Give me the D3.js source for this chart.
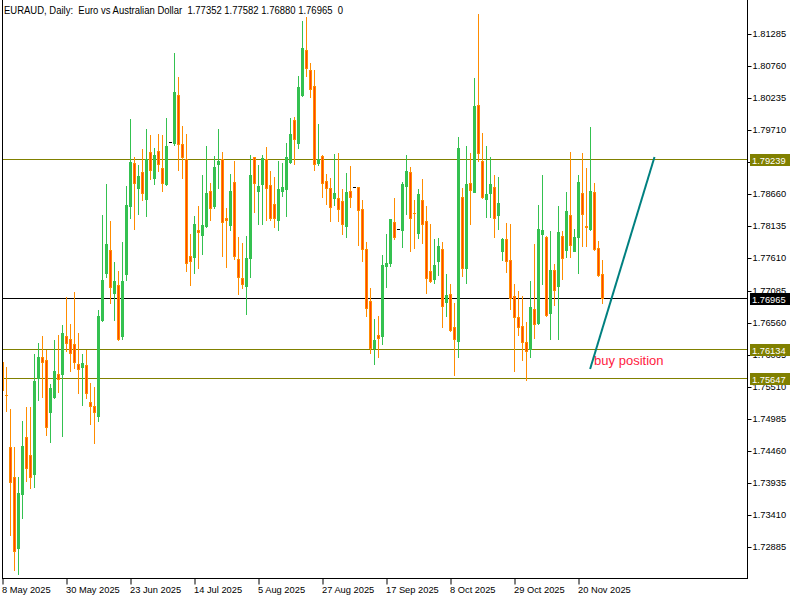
<!DOCTYPE html>
<html>
<head>
<meta charset="utf-8">
<script src="https://cdn.jsdelivr.net/npm/d3@7"></script>
<style>
  html, body { margin: 0; padding: 0; background: #fff; }
  svg { display: block; }
  text { font-family: "Liberation Sans", Arial, sans-serif; }
</style>
</head>
<body>
<svg id="chart" width="800" height="600"></svg>
<script>
// ---------------- DATA ----------------
const titleText = "EURAUD, Daily:  Euro vs Australian Dollar  1.77352 1.77582 1.76880 1.76965  0";

const open = [
1.75915,1.75382,1.74522,1.74031,1.72869,1.73753,1.74686,1.74391,1.74080,1.75652,
1.75996,1.75947,1.75096,1.75341,1.75718,1.75718,1.76340,1.76291,1.76209,1.75881,
1.75832,1.75865,1.75259,1.75194,1.75030,1.76602,1.77372,1.77748,1.77044,1.77175,
1.76340,1.77355,1.78469,1.79173,1.78763,1.79026,1.78583,1.79353,1.78927,1.79370,
1.79091,1.78829,1.79517,1.79500,1.80286,1.79484,1.79238,1.77650,1.77634,1.78068,
1.77994,1.78141,1.78714,1.78469,1.79156,1.79238,1.78272,1.78158,1.78862,1.77601,
1.77290,1.77159,1.77617,1.79271,1.78714,1.78829,1.79238,1.78812,1.78502,1.78239,
1.78714,1.78747,1.79189,1.79877,1.79500,1.80286,1.81023,1.80696,1.80434,1.79173,
1.79287,1.78878,1.78763,1.78600,1.78600,1.78551,1.78141,1.78714,1.78780,1.78780,
1.78420,1.77765,1.76913,1.76144,1.76356,1.76340,1.77486,1.77535,1.78207,1.78092,
1.78076,1.78796,1.79026,1.78362,1.78027,1.78567,1.78223,1.77405,1.77273,1.77568,
1.77765,1.76897,1.77028,1.76488,1.76258,1.78616,1.77454,1.78845,1.78698,1.80123,
1.79205,1.78583,1.78681,1.78780,1.78321,1.77732,1.77928,1.77584,1.76995,1.76651,
1.76504,1.76242,1.76127,1.76782,1.76553,1.78010,1.77961,1.76717,1.77421,1.77159,
1.77977,1.77748,1.78321,1.77732,1.77961,1.78681,1.78133,1.78092,1.78698,1.77781,
1.77352];
const high = [
1.75980,1.75832,1.75145,1.74522,1.74031,1.74948,1.75177,1.75177,1.76045,1.76225,
1.76340,1.76111,1.75554,1.76275,1.76356,1.76520,1.76979,1.76536,1.77061,1.76389,
1.76045,1.76111,1.75570,1.75505,1.76766,1.78321,1.78829,1.78223,1.77552,1.77405,
1.77880,1.78796,1.79893,1.79271,1.79140,1.79402,1.79730,1.79632,1.79419,1.79648,
1.79632,1.79910,1.79517,1.80974,1.80581,1.79781,1.79648,1.78010,1.78305,1.78469,
1.78976,1.79451,1.78845,1.79287,1.79730,1.79353,1.78436,1.78993,1.79205,1.77961,
1.77863,1.77977,1.79304,1.79271,1.79140,1.79304,1.79435,1.79042,1.78944,1.79205,
1.79173,1.79500,1.79910,1.79926,1.80598,1.81498,1.81564,1.80810,1.80696,1.79812,
1.79304,1.78993,1.78927,1.79320,1.79337,1.78747,1.79009,1.79124,1.78780,1.78780,
1.78567,1.77880,1.77126,1.76619,1.76668,1.77666,1.78010,1.78256,1.78600,1.78092,
1.78862,1.79304,1.79107,1.78567,1.78747,1.78911,1.78469,1.78174,1.77928,1.77945,
1.77880,1.77355,1.77192,1.76880,1.79599,1.78763,1.79451,1.79337,1.80565,1.81613,
1.79664,1.79451,1.79271,1.78976,1.78944,1.77945,1.78190,1.78174,1.77192,1.77077,
1.76995,1.76569,1.77240,1.77847,1.78485,1.78976,1.77977,1.78059,1.77519,1.78469,
1.78059,1.78698,1.79353,1.78092,1.78976,1.79337,1.79091,1.79763,1.78845,1.77896,
1.77582];
const low = [
1.75390,1.75112,1.73081,1.72508,1.72443,1.73360,1.73966,1.73851,1.73868,1.75292,
1.75341,1.74719,1.74604,1.75325,1.75423,1.74703,1.76095,1.75767,1.75816,1.75407,
1.75210,1.75325,1.74899,1.74588,1.74948,1.76586,1.77306,1.76880,1.76602,1.76275,
1.76291,1.77257,1.78272,1.78092,1.78338,1.78567,1.78305,1.78911,1.78829,1.79042,
1.78714,1.78812,1.79517,1.79468,1.79058,1.78927,1.77405,1.77175,1.77372,1.77454,
1.77683,1.78125,1.78239,1.78436,1.78763,1.77650,1.77470,1.78076,1.77601,1.77028,
1.77126,1.76700,1.77306,1.78370,1.78174,1.78174,1.78239,1.78239,1.78125,1.78076,
1.78633,1.78305,1.79173,1.79156,1.79419,1.80270,1.80598,1.80254,1.79058,1.79140,
1.78616,1.78502,1.78223,1.78485,1.78223,1.78010,1.77961,1.78452,1.78780,1.77830,
1.77568,1.76668,1.76062,1.75881,1.75996,1.76209,1.77142,1.77486,1.77928,1.78092,
1.77797,1.78338,1.77732,1.77781,1.77945,1.77863,1.77044,1.77225,1.77208,1.77339,
1.76488,1.76668,1.76422,1.75701,1.75996,1.77323,1.77208,1.78174,1.78698,1.79205,
1.78600,1.78289,1.78289,1.77961,1.78092,1.77584,1.77388,1.76782,1.75767,1.76356,
1.75947,1.75620,1.75996,1.76307,1.76537,1.77192,1.76668,1.76291,1.76848,1.76291,
1.77273,1.77634,1.77634,1.77732,1.77372,1.77814,1.77814,1.78076,1.77748,1.77323,
1.76880];
const close = [
1.75456,1.75366,1.73949,1.72819,1.73769,1.74539,1.74179,1.74031,1.75603,1.75996,
1.75915,1.74850,1.75489,1.75767,1.75636,1.76389,1.76225,1.76062,1.75915,1.75799,
1.75898,1.75407,1.75194,1.75096,1.76668,1.77257,1.77847,1.77142,1.77240,1.76291,
1.77240,1.78485,1.79189,1.78845,1.78960,1.78681,1.79238,1.79058,1.79304,1.79156,
1.78845,1.79451,1.79517,1.80336,1.79484,1.79271,1.77535,1.77568,1.78174,1.78051,
1.78158,1.78681,1.78436,1.79107,1.79205,1.78207,1.78239,1.78714,1.77650,1.77306,
1.77192,1.77617,1.78976,1.78845,1.78796,1.79255,1.78763,1.78272,1.78272,1.78747,
1.78780,1.79271,1.79648,1.79566,1.80417,1.81056,1.80729,1.80385,1.79156,1.79238,
1.78845,1.78763,1.78452,1.78681,1.78420,1.78174,1.78698,1.78616,1.78780,1.78403,
1.77765,1.76799,1.76144,1.76275,1.76307,1.77503,1.77535,1.78256,1.77961,1.78092,
1.78829,1.79042,1.78272,1.78346,1.78665,1.78174,1.77290,1.77240,1.77503,1.77814,
1.76831,1.77011,1.76438,1.76291,1.79419,1.77454,1.78829,1.78731,1.80106,1.79337,
1.78616,1.78665,1.78829,1.78272,1.78518,1.77928,1.77568,1.76962,1.76651,1.76488,
1.76242,1.76095,1.76815,1.76536,1.78092,1.78076,1.76684,1.77421,1.77093,1.78043,
1.77617,1.78387,1.77830,1.77961,1.78862,1.78338,1.78117,1.78714,1.77765,1.77339,
1.76965];

const yTicks = [1.81285,1.80760,1.80235,1.79710,1.79185,1.78660,1.78135,1.77610,1.77085,
                1.76560,1.76035,1.75510,1.74985,1.74460,1.73935,1.73410,1.72885];
const xTickIndex = [0,16,32,48,64,80,96,112,128,144];
const xTickLabels = ["8 May 2025","30 May 2025","23 Jun 2025","14 Jul 2025","5 Aug 2025",
                     "27 Aug 2025","17 Sep 2025","8 Oct 2025","29 Oct 2025","20 Nov 2025"];

const levelValues = [1.79239, 1.76965, 1.76134, 1.75647];
const levelKinds  = ["olive", "bid", "olive", "olive"];

const trendIndex = [146.9, 163];
const trendPrice = [1.7580, 1.7927];
const noteText = "buy position";
const noteIndex = 147.9;
const notePrice = 1.7587;

// ---------------- LAYOUT ----------------
const L = 2, R = 747, T = 0, B = 578;
const svg = d3.select("#chart");
svg.append("rect").attr("width", 800).attr("height", 600).attr("fill", "#fff");

const x = d3.scaleLinear().domain([0, 186]).range([2.5, 746.5]);
const y = d3.scaleLinear().domain([1.72885, 1.81285]).range([547, 34]);

const GREEN = "#34c150", ORANGE = "#ff8c00", ORED = "#ff4500", OLIVE = "#808000";

svg.append("defs").append("clipPath").attr("id", "plot")
  .append("rect").attr("x", L + 1).attr("y", T).attr("width", R - L - 1).attr("height", B - T);

// horizontal levels (under candles)
const lv = svg.append("g");
levelValues.forEach((v, k) => {
  const yy = Math.round(y(v)) + 0.5;
  lv.append("line").attr("x1", L).attr("x2", R).attr("y1", yy).attr("y2", yy)
    .attr("stroke", levelKinds[k] === "bid" ? "#000" : OLIVE).attr("stroke-width", 1);
});

// candles
const cg = svg.append("g").attr("clip-path", "url(#plot)");
const bars = d3.range(open.length).map(i => ({i, o: open[i], h: high[i], l: low[i], c: close[i]}));
bars.forEach(d => {
  const col = Math.round(x(d.i) - 0.5);
  const yH = Math.round(y(d.h)), yL = Math.round(y(d.l));
  const yO = Math.round(y(d.o)), yC = Math.round(y(d.c));
  if (d.h === d.l) {
    cg.append("rect").attr("x", col - 1).attr("y", yO).attr("width", 3).attr("height", 1).attr("fill", "#000");
    return;
  }
  const bull = d.c > d.o;
  const col1 = bull ? GREEN : ORANGE;
  cg.append("rect").attr("x", col).attr("y", yH).attr("width", 1).attr("height", yL - yH + 1).attr("fill", col1);
  const top = Math.min(yO, yC), bot = Math.max(yO, yC);
  const hh = bot - top + 1;
  cg.append("rect").attr("x", col - 1).attr("y", top).attr("width", 3).attr("height", hh).attr("fill", col1);
  if (!bull && hh > 2) {
    cg.append("rect").attr("x", col).attr("y", top + 1).attr("width", 1).attr("height", hh - 2).attr("fill", ORED);
  }
});

// trend line & note
svg.append("line")
  .attr("x1", x(trendIndex[0])).attr("y1", y(trendPrice[0]))
  .attr("x2", x(trendIndex[1])).attr("y2", y(trendPrice[1]))
  .attr("stroke", "#008080").attr("stroke-width", 2);
svg.append("text").attr("x", x(noteIndex)).attr("y", y(notePrice))
  .attr("fill", "#ff1a40").attr("font-size", 13).text(noteText);

// frame
svg.append("line").attr("x1", L + 0.5).attr("x2", L + 0.5).attr("y1", T).attr("y2", B + 1).attr("stroke", "#000");

// y axis (right)
const yAxis = d3.axisRight(y).tickValues(yTicks).tickFormat(d3.format(".5f")).tickSize(4).tickPadding(1);
const ya = svg.append("g").attr("transform", `translate(${R + 0.5},0)`).call(yAxis);
ya.select(".domain").remove();
ya.selectAll(".tick line").attr("stroke", "#000");
ya.selectAll(".tick text").attr("font-family", "Liberation Sans, Arial, sans-serif")
  .attr("font-size", 9.3).attr("fill", "#000");
ya.selectAll(".tick").attr("transform", d => `translate(0,${Math.round(y(d)) + 0.5})`);
svg.append("line").attr("x1", R + 0.5).attr("x2", R + 0.5).attr("y1", T).attr("y2", B + 1).attr("stroke", "#000");

// x axis
const xAxis = d3.axisBottom(x).tickValues(xTickIndex).tickFormat((d, k) => xTickLabels[k]).tickSize(6).tickPadding(2);
const xa = svg.append("g").attr("transform", `translate(0,${B + 0.5})`).call(xAxis);
xa.select(".domain").remove();
xa.selectAll(".tick line").attr("stroke", "#000");
xa.selectAll(".tick text").attr("font-family", "Liberation Sans, Arial, sans-serif")
  .attr("font-size", 9.3).attr("fill", "#000").attr("text-anchor", "start").attr("dx", -1);
svg.append("line").attr("x1", L).attr("x2", R + 1).attr("y1", B + 0.5).attr("y2", B + 0.5).attr("stroke", "#000");

// level labels
levelValues.forEach((v, k) => {
  const yy = Math.round(y(v));
  const bid = levelKinds[k] === "bid";
  svg.append("rect").attr("x", R + 3).attr("y", yy - 5).attr("width", 40).attr("height", 12)
    .attr("fill", bid ? "#000" : OLIVE);
  svg.append("text").attr("x", R + 5).attr("y", yy + 4.5).attr("fill", "#fff")
    .attr("font-size", 9.3).text(d3.format(".5f")(v));
});

// title
svg.append("text").attr("x", 4).attr("y", 14).attr("font-size", 10).attr("fill", "#000")
  .attr("textLength", 339).attr("lengthAdjust", "spacingAndGlyphs")
  .style("white-space", "pre").text(titleText);
</script>
</body>
</html>
